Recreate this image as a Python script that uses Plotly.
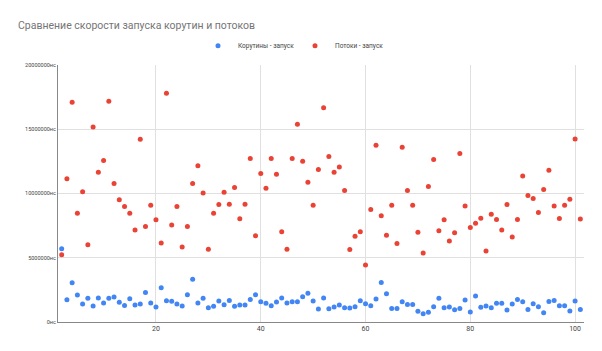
import plotly.graph_objects as go

# x positions of the runs
run_index = list(range(2, 102))

coroutines = [
    5.70, 1.73, 3.06, 2.10, 1.40, 1.84, 1.24, 1.86, 1.47, 1.84,
    1.94, 1.53, 1.29, 1.81, 1.32, 1.40, 2.30, 1.47, 1.16, 2.67,
    1.66, 1.61, 1.40, 1.24, 2.12, 3.32, 1.47, 1.84, 1.11, 1.22,
    1.63, 1.35, 1.68, 1.22, 1.32, 1.32, 1.76, 2.12, 1.58, 1.45,
    1.27, 1.55, 1.86, 1.47, 1.58, 1.58, 1.97, 2.23, 1.63, 1.01,
    1.86, 1.03, 1.16, 1.32, 1.11, 1.09, 1.19, 1.66, 1.42, 1.27,
    1.79, 3.08, 2.20, 1.06, 1.06, 1.58, 1.37, 1.37, 0.83, 0.65,
    0.75, 1.19, 1.84, 1.11, 1.16, 0.96, 1.06, 1.71, 0.78, 2.02,
    1.14, 1.24, 1.11, 1.45, 1.45, 0.93, 1.40, 1.76, 1.58, 0.98,
    1.42, 1.19, 0.72, 1.60, 1.68, 1.27, 1.27, 0.85, 1.63, 0.98,
]

threads = [
    5.23, 11.14, 17.10, 8.47, 10.13, 6.01, 15.18, 11.66, 12.56, 17.18,
    10.78, 9.51, 8.99, 8.47, 7.15, 14.22, 7.44, 9.09, 7.95, 6.14,
    17.80, 7.54, 8.99, 5.83, 7.44, 10.78, 12.15, 10.03, 5.67, 8.47,
    9.15, 10.10, 9.17, 10.47, 8.03, 9.17, 12.72, 6.71, 11.55, 10.41,
    12.72, 11.50, 7.02, 5.67, 12.72, 15.39, 12.51, 10.88, 9.09, 11.87,
    16.68, 12.88, 11.66, 12.07, 10.23, 5.65, 6.68, 7.02, 4.43, 8.76,
    13.76, 8.26, 6.76, 9.09, 6.11, 13.60, 10.23, 9.09, 6.99, 5.36,
    10.54, 12.64, 7.10, 7.95, 6.30, 6.94, 13.11, 9.02, 7.36, 7.69,
    8.08, 5.52, 8.39, 7.98, 7.15, 9.15, 6.61, 7.98, 11.37, 9.84,
    9.61, 8.52, 10.31, 11.81, 9.02, 8.06, 9.09, 9.56, 14.25, 8.01,
]

# values read in millions of ns -> ns
coroutines_ns = [v * 1e6 for v in coroutines]
threads_ns = [v * 1e6 for v in threads]

title_text = "Сравнение скорости запуска корутин и потоков"
name_coroutines = "Корутины - запуск"
name_threads = "Потоки - запуск"

W, H = 602, 351
FONT = "Roboto, Arial, sans-serif"

fig = go.Figure()
fig.add_trace(go.Scatter(
    x=run_index, y=coroutines_ns, mode="markers", name=name_coroutines,
    marker=dict(color="#4285F4", size=5, line=dict(width=0)),
))
fig.add_trace(go.Scatter(
    x=run_index, y=threads_ns, mode="markers", name=name_threads,
    marker=dict(color="#EA4335", size=5, line=dict(width=0)),
))

fig.update_layout(
    width=W, height=H,
    paper_bgcolor="white", plot_bgcolor="white",
    margin=dict(l=58, r=18, t=65, b=29, pad=0, autoexpand=False),
    font=dict(family=FONT, color="#444"),
    title=dict(
        text=title_text, x=18 / W, xanchor="left", xref="container",
        y=1 - 25 / H, yanchor="middle", yref="container",
        font=dict(family=FONT, size=10.5, color="#757575"),
    ),
    showlegend=True,
    legend=dict(
        orientation="h", xref="container", yref="container",
        x=198 / W, xanchor="left", y=1 - 45.7 / H, yanchor="middle",
        font=dict(family=FONT, size=6.5, color="#444"),
        itemwidth=30, entrywidth=52, entrywidthmode="pixels",
        bgcolor="rgba(0,0,0,0)", borderwidth=0,
    ),
    xaxis=dict(
        range=[1.3, 101.7], tick0=0, dtick=20, showgrid=True,
        gridcolor="#e0e0e0", gridwidth=1, zeroline=False,
        showline=True, linecolor="#888", linewidth=1,
        ticks="", tickfont=dict(family=FONT, size=7, color="#444"),
    ),
    yaxis=dict(
        range=[0, 20e6], tick0=0, dtick=5e6, tickformat="d", ticksuffix="нс",
        showgrid=True, gridcolor="#e0e0e0", gridwidth=1, zeroline=False,
        showline=True, linecolor="#888", linewidth=1,
        ticks="", tickfont=dict(family=FONT, size=5.5, color="#444"),
    ),
)

fig.write_html(
    "out.html",
    config={"displayModeBar": False},
    post_script="document.body.style.margin='0';document.body.style.padding='0';",
)
